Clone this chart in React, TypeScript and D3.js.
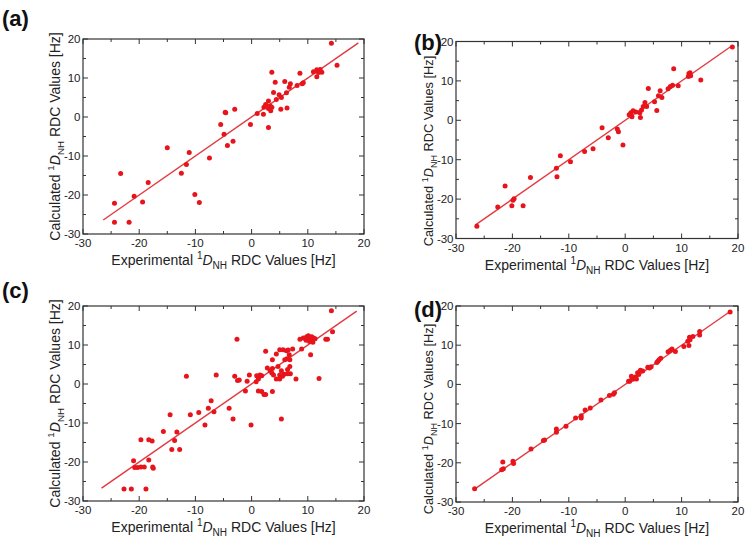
import React from "react";
import * as d3 from "d3";

const dataA: [number, number][] = [
  [14.2, 18.9], [15.2, 13.3], [3.6, 11.5], [8.6, 11.2], [11.0, 11.6], [11.6, 12.1], [12.2, 12.2],
  [11.9, 11.4], [12.5, 11.5], [11.6, 10.3], [4.2, 8.9], [5.9, 9.1], [6.9, 8.5], [6.7, 7.6],
  [8.1, 8.1], [9.0, 8.5], [9.2, 8.8], [3.9, 6.3], [4.9, 5.7], [5.3, 5.0], [4.4, 4.5], [6.2, 6.2],
  [3.0, 4.1], [2.5, 3.2], [2.2, 2.5], [3.3, 2.8], [3.6, 2.5], [3.4, 1.6], [3.0, 2.2], [5.2, 2.0],
  [6.3, 2.3], [1.0, 0.9], [2.1, 0.7], [-0.2, -1.9], [3.0, -2.7], [-3.0, 2.0], [-4.7, 1.2],
  [-4.6, 1.1], [-5.5, -1.9], [-4.9, -4.4], [-4.3, -7.3], [-3.3, -6.2], [-7.5, -10.5],
  [-15.0, -7.9], [-11.1, -9.1], [-11.6, -12.2], [-12.5, -14.4], [-10.1, -19.9], [-9.3, -21.9],
  [-18.4, -16.8], [-20.9, -20.3], [-19.4, -21.8], [-23.3, -14.5], [-24.4, -22.1], [-24.4, -27.0],
  [-21.8, -27.0],
];

const dataB: [number, number][] = [
  [19.0, 18.6], [8.6, 13.1], [13.4, 10.2], [11.3, 11.9], [11.6, 11.3], [11.2, 11.1], [11.5, 12.1],
  [8.4, 8.9], [7.6, 8.0], [9.4, 8.8], [8.0, 8.6], [4.1, 8.1], [6.2, 7.5], [5.9, 6.2], [6.5, 5.8],
  [5.2, 4.7], [3.5, 4.5], [3.8, 3.5], [3.2, 3.5], [2.9, 2.6], [2.6, 1.9], [2.7, 0.7], [1.9, 2.1],
  [1.4, 2.4], [1.0, 1.9], [1.2, 0.9], [0.7, 1.4], [5.6, 2.5], [-4.1, -1.9], [-1.4, -2.2],
  [-1.2, -2.9], [-3.0, -4.4], [-0.4, -6.3], [-7.2, -7.9], [-5.7, -7.2], [-9.7, -10.5],
  [-11.5, -9.0], [-12.2, -12.2], [-12.1, -14.3], [-16.8, -14.5], [-21.3, -16.7], [-19.7, -19.9],
  [-19.9, -20.3], [-20.1, -21.7], [-18.1, -21.7], [-22.6, -22.0], [-26.3, -26.9],
];

const dataC: [number, number][] = [
  [14.2, 18.8], [14.4, 13.4], [13.2, 11.5], [13.5, 11.5], [8.6, 11.5], [9.2, 11.8], [9.8, 12.1],
  [10.1, 12.4], [10.4, 11.7], [10.7, 12.1], [11.0, 11.8], [9.7, 11.2], [10.3, 10.9], [10.9, 10.7],
  [11.3, 11.6], [10.5, 7.5], [12.0, 1.4], [-2.6, 11.5], [2.5, 8.4], [5.0, 8.8], [5.6, 8.8],
  [6.2, 8.5], [6.5, 8.7], [7.3, 9.0], [6.7, 7.5], [6.3, 6.5], [5.9, 6.2], [8.9, 9.0], [6.8, 6.2],
  [4.4, 7.7], [3.7, 6.2], [2.8, 4.1], [3.3, 3.4], [3.6, 2.8], [3.7, 4.0], [3.9, 2.3], [4.7, 4.5],
  [5.3, 3.4], [5.0, 2.3], [5.5, 2.0], [5.8, 2.5], [6.4, 2.6], [6.9, 2.6], [6.8, 4.5], [6.4, 3.7],
  [7.9, 1.3], [4.4, 1.3], [5.0, 1.3], [0.9, 2.1], [1.5, 2.3], [1.8, 2.1], [-0.4, 2.3], [-0.8, 0.7],
  [0.8, 0.6], [1.2, 1.3], [-3.0, 2.0], [-2.5, 0.9], [-2.2, 1.0], [-1.1, -1.8], [1.2, -1.8],
  [1.8, -1.9], [2.2, -2.7], [2.5, -2.7], [3.7, -1.9], [-4.0, -6.2], [-3.3, -9.0], [-0.1, -10.5],
  [5.3, -9.0], [-6.3, 2.3], [-11.6, 2.0], [-7.2, -4.3], [-7.7, -6.2], [-6.7, -7.1], [-9.4, -7.3],
  [-10.9, -7.9], [-8.3, -10.5], [-14.5, -7.9], [-15.7, -12.2], [-13.3, -12.3], [-13.7, -14.5],
  [-14.2, -16.8], [-12.8, -16.8], [-19.7, -14.3], [-18.3, -14.3], [-17.7, -14.6], [-21.0, -19.7],
  [-20.8, -21.4], [-20.3, -21.4], [-19.7, -21.3], [-19.1, -21.3], [-18.3, -19.5], [-17.6, -21.3],
  [-17.5, -21.6], [-22.7, -26.9], [-21.4, -26.9], [-18.8, -26.9],
];

const dataD: [number, number][] = [
  [18.6, 18.5], [13.2, 13.5], [13.2, 12.6], [12.0, 12.2], [11.4, 12.0], [11.5, 11.4], [11.1, 11.0],
  [11.3, 9.9], [10.4, 9.7], [8.9, 8.4], [8.3, 9.0], [8.0, 8.7], [7.6, 8.3], [6.3, 6.7], [6.0, 6.3],
  [5.8, 5.9], [5.6, 5.6], [4.6, 4.5], [4.3, 4.2], [4.0, 4.4], [3.1, 3.4], [2.7, 3.6], [2.2, 3.0],
  [2.4, 2.5], [1.8, 1.9], [1.5, 1.4], [1.1, 2.1], [0.8, 0.8], [1.2, 1.3], [2.0, 1.4], [0.6, 0.8],
  [-1.9, -2.1], [-2.8, -2.8], [-2.1, -2.5], [-4.3, -4.0], [-6.2, -6.0], [-7.1, -6.5], [-7.8, -8.0],
  [-7.8, -8.6], [-8.8, -8.6], [-10.5, -10.7], [-12.2, -11.4], [-12.2, -12.2], [-14.3, -14.2],
  [-14.5, -14.3], [-16.7, -16.5], [-19.9, -19.6], [-19.8, -20.2], [-21.7, -19.8], [-21.9, -21.8],
  [-21.6, -21.5], [-26.7, -26.6],
];

const panelLabels = ["(a)", "(b)", "(c)", "(d)"];
const fitExtents: [number, number][] = [[-26.4, 19.0], [-26.6, 18.8], [-26.7, 18.7], [-26.7, 18.6]];
const axisDomain: [number, number] = [-30, 20];
const majorTicks = [-30, -20, -10, 0, 10, 20];
const minorTicks = [-25, -15, -5, 5, 15];

const panels = [
  { data: dataA, left: 83, right: 364, top: 39, bottom: 234, lx: 2, ly: 26, yFs: 14, yShift: 0 },
  { data: dataB, left: 456, right: 738, top: 41.5, bottom: 238.5, lx: 414, ly: 50, yFs: 12.8, yShift: 11 },
  { data: dataC, left: 83, right: 364, top: 306, bottom: 501, lx: 2, ly: 298, yFs: 14, yShift: 0 },
  { data: dataD, left: 456, right: 738, top: 306, bottom: 502, lx: 414, ly: 317, yFs: 12.8, yShift: 15 },
];

const RED = "#e8141c";
const AXIS = "#333";
const FONT = "'Liberation Sans', Arial, Helvetica, sans-serif";

function Panel({ idx }: { idx: number }) {
  const p = panels[idx];
  const x = d3.scaleLinear().domain(axisDomain).range([p.left, p.right]);
  const y = d3.scaleLinear().domain(axisDomain).range([p.bottom, p.top]);
  const line = d3.line<number>().x((v) => x(v)).y((v) => y(v));
  const ext = fitExtents[idx];
  const cx = (p.left + p.right) / 2;
  const cy = (p.top + p.bottom) / 2 + p.yShift;
  const majorLen = 5;
  const minorLen = 3;
  const sub = p.yFs * 0.7;
  return (
    <g>
      <text x={p.lx} y={p.ly} fontFamily={FONT} fontWeight="bold" fontSize={22} fill="#111">
        {panelLabels[idx]}
      </text>
      <path d={line(ext) || ""} stroke="#e23a40" strokeWidth={1.4} fill="none" />
      {p.data.map((d, i) => (
        <circle key={i} cx={x(d[0])} cy={y(d[1])} r={2.5} fill={RED} />
      ))}
      <rect x={p.left} y={p.top} width={p.right - p.left} height={p.bottom - p.top} fill="none" stroke={AXIS} strokeWidth={1.2} />
      {majorTicks.map((t) => (
        <g key={"M" + t}>
          <line x1={x(t)} x2={x(t)} y1={p.bottom} y2={p.bottom - majorLen} stroke={AXIS} strokeWidth={1} />
          <line x1={x(t)} x2={x(t)} y1={p.top} y2={p.top + majorLen} stroke={AXIS} strokeWidth={1} />
          <line y1={y(t)} y2={y(t)} x1={p.left} x2={p.left + majorLen} stroke={AXIS} strokeWidth={1} />
          <line y1={y(t)} y2={y(t)} x1={p.right} x2={p.right - majorLen} stroke={AXIS} strokeWidth={1} />
          <text x={x(t)} y={p.bottom + 13} textAnchor="middle" fontFamily={FONT} fontSize={11.5} fill="#222">{t}</text>
          <text x={p.left - 2.5} y={y(t) + 4} textAnchor="end" fontFamily={FONT} fontSize={11.5} fill="#222">{t}</text>
        </g>
      ))}
      {minorTicks.map((t) => (
        <g key={"m" + t}>
          <line x1={x(t)} x2={x(t)} y1={p.bottom} y2={p.bottom - minorLen} stroke={AXIS} strokeWidth={1} />
          <line x1={x(t)} x2={x(t)} y1={p.top} y2={p.top + minorLen} stroke={AXIS} strokeWidth={1} />
          <line y1={y(t)} y2={y(t)} x1={p.left} x2={p.left + minorLen} stroke={AXIS} strokeWidth={1} />
          <line y1={y(t)} y2={y(t)} x1={p.right} x2={p.right - minorLen} stroke={AXIS} strokeWidth={1} />
        </g>
      ))}
      <text x={cx} y={p.bottom + 31} textAnchor="middle" fontFamily={FONT} fontSize={14} fill="#222">
        Experimental <tspan fontSize={10} dy={-6}>1</tspan>
        <tspan fontStyle="italic" dy={6}>D</tspan>
        <tspan fontSize={10} dy={4}>NH</tspan>
        <tspan dy={-4}> RDC Values [Hz]</tspan>
      </text>
      <text transform={`translate(${p.left - 23},${cy}) rotate(-90)`} textAnchor="middle" fontFamily={FONT} fontSize={p.yFs} fill="#222">
        Calculated <tspan fontSize={sub} dy={-p.yFs * 0.43}>1</tspan>
        <tspan fontStyle="italic" dy={p.yFs * 0.43}>D</tspan>
        <tspan fontSize={sub} dy={p.yFs * 0.29}>NH</tspan>
        <tspan dy={-p.yFs * 0.29}> RDC Values [Hz]</tspan>
      </text>
    </g>
  );
}

export default function App() {
  return (
    <svg width={750} height={544} style={{ position: "absolute", left: 0, top: 0, background: "#fff" }}>
      <rect width={750} height={544} fill="#fff" />
      {panels.map((_, i) => (
        <Panel key={i} idx={i} />
      ))}
    </svg>
  );
}
